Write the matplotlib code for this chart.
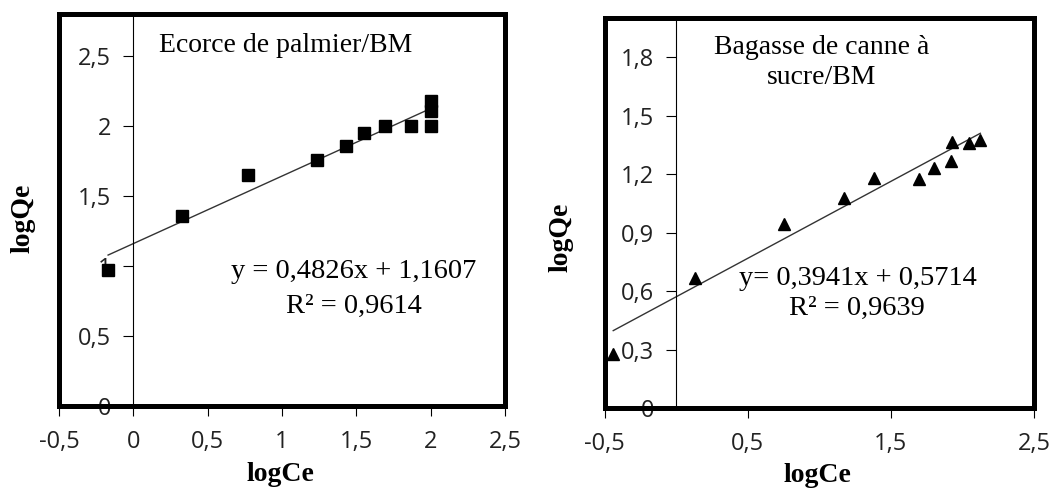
import numpy as np
import matplotlib.pyplot as plt
from matplotlib.patches import Rectangle

# Ecorce de palmier / BM
palm_logce = [-0.17, 0.33, 0.77, 1.235, 1.43, 1.55, 1.69, 1.87, 2.0, 2.0, 2.0]
palm_logqe = [0.97, 1.36, 1.65, 1.76, 1.86, 1.95, 2.0, 2.0, 2.0, 2.11, 2.18]
palm_slope, palm_intercept = 0.4826, 1.1607
palm_eq = ["y = 0,4826x + 1,1607", "R² = 0,9614"]

# Bagasse de canne a sucre / BM
bag_logce = [-0.44, 0.13, 0.75, 1.17, 1.38, 1.70, 1.80, 1.92, 1.925, 2.045, 2.125]
bag_logqe = [0.28, 0.67, 0.945, 1.075, 1.18, 1.177, 1.233, 1.266, 1.366, 1.36, 1.374]
bag_slope, bag_intercept = 0.3941, 0.5714
bag_eq = ["y= 0,3941x + 0,5714", "R² = 0,9639"]

palm_xticks = [-0.5, 0, 0.5, 1, 1.5, 2, 2.5]
palm_yticks = [0, 0.5, 1, 1.5, 2, 2.5]
bag_xticks = [-0.5, 0.5, 1.5, 2.5]
bag_yticks = [0, 0.3, 0.6, 0.9, 1.2, 1.5, 1.8]


def fr(v):
    # virgule comme separateur decimal
    return f"{v:g}".replace(".", ",")


SERIF = "Liberation Serif"
SANS = "Open Sans"

fig = plt.figure(figsize=(10.58, 4.88), dpi=100)


def panel(rect, xs, ys, slope, intercept, marker, xticks, yticks, ylim):
    ax = fig.add_axes(rect)
    ax.set_xlim(-0.5, 2.5)
    ax.set_ylim(*ylim)
    for s in ["top", "right", "bottom"]:
        ax.spines[s].set_visible(False)
    ax.spines["left"].set_position(("data", 0))
    ax.spines["left"].set_linewidth(0.8)
    ax.set_xticks(xticks)
    ax.set_xticklabels([fr(v) for v in xticks], fontsize=17, family=SANS)
    ax.set_yticks(yticks)
    ax.set_yticklabels([fr(v) for v in yticks], fontsize=17, family=SANS)
    ax.tick_params(axis="x", direction="out", length=7, width=0.8, pad=10,
                   labelcolor="#222222")
    ax.tick_params(axis="y", direction="out", length=7, width=0.8, pad=9,
                   labelcolor="#222222")

    # trendline over data range
    x_fit = np.array([min(xs), max(xs)])
    ax.plot(x_fit, slope * x_fit + intercept, color="#333333", lw=1.0, zorder=2)
    ax.plot(xs, ys, linestyle="none", marker=marker, ms=9, color="black",
            zorder=4, clip_on=False)

    ax.add_patch(Rectangle((0, 0), 1, 1, transform=ax.transAxes, fill=False,
                           lw=3.6, edgecolor="black", zorder=3, clip_on=False))
    return ax


ax1 = panel([0.0558, 0.168, 0.4216, 0.803], palm_logce, palm_logqe,
            palm_slope, palm_intercept, "s", palm_xticks, palm_yticks, (0, 2.8))
ax1.text(0.507, 0.921, "Ecorce de palmier/BM", transform=ax1.transAxes,
         ha="center", va="center", fontsize=20, family=SERIF)
ax1.text(0.661, 0.342, palm_eq[0], transform=ax1.transAxes,
         ha="center", va="center", fontsize=20.5, family=SERIF)
ax1.text(0.661, 0.253, palm_eq[1], transform=ax1.transAxes,
         ha="center", va="center", fontsize=20.5, family=SERIF)

ax2 = panel([0.5715, 0.1633, 0.4058, 0.80], bag_logce, bag_logqe,
            bag_slope, bag_intercept, "^", bag_xticks, bag_yticks, (0, 2.0))
ax2.text(0.506, 0.886, "Bagasse de canne à\nsucre/BM", transform=ax2.transAxes,
         ha="center", va="center", fontsize=20, family=SERIF, linespacing=1.26)
ax2.text(0.59, 0.333, bag_eq[0], transform=ax2.transAxes,
         ha="center", va="center", fontsize=20.5, family=SERIF)
ax2.text(0.588, 0.257, bag_eq[1], transform=ax2.transAxes,
         ha="center", va="center", fontsize=20.5, family=SERIF)

# axis titles
fig.text(0.0217, 0.553, "logQe", rotation=90, ha="center", va="center",
         fontsize=20, fontweight="bold", family=SERIF)
fig.text(0.530, 0.514, "logQe", rotation=90, ha="center", va="center",
         fontsize=20, fontweight="bold", family=SERIF)
fig.text(0.2647, 0.014, "logCe", ha="center", va="baseline",
         fontsize=20, fontweight="bold", family=SERIF)
fig.text(0.773, 0.012, "logCe", ha="center", va="baseline",
         fontsize=20, fontweight="bold", family=SERIF)

fig.savefig("out.png", dpi=100)
